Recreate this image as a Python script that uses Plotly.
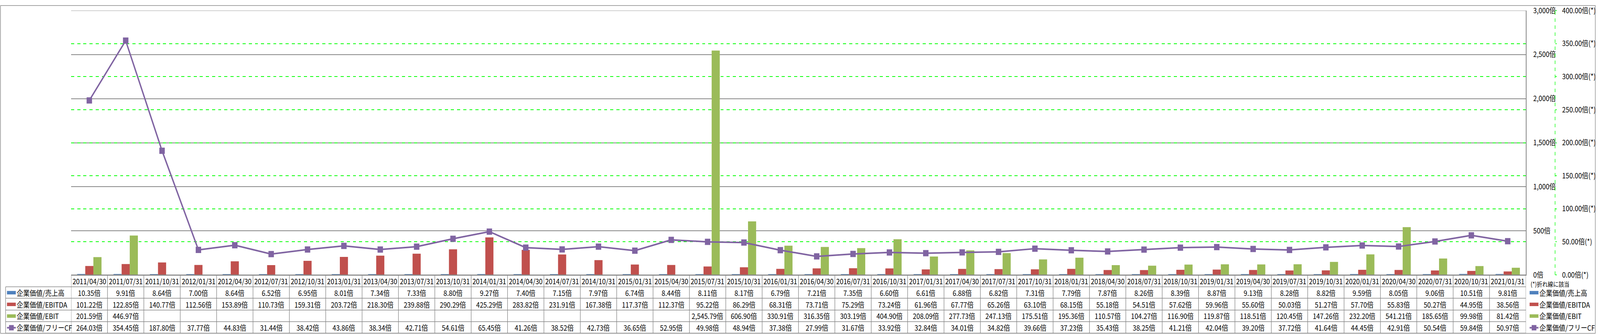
import plotly.graph_objects as go

dates = ["2011/04/30", "2011/07/31", "2011/10/31", "2012/01/31", "2012/04/30", "2012/07/31",
         "2012/10/31", "2013/01/31", "2013/04/30", "2013/07/31", "2013/10/31", "2014/01/31",
         "2014/04/30", "2014/07/31", "2014/10/31", "2015/01/31", "2015/04/30", "2015/07/31",
         "2015/10/31", "2016/01/31", "2016/04/30", "2016/07/31", "2016/10/31", "2017/01/31",
         "2017/04/30", "2017/07/31", "2017/10/31", "2018/01/31", "2018/04/30", "2018/07/31",
         "2018/10/31", "2019/01/31", "2019/04/30", "2019/07/31", "2019/10/31", "2020/01/31",
         "2020/04/30", "2020/07/31", "2020/10/31", "2021/01/31"]

ev_sales = [10.35, 9.91, 8.64, 7.00, 8.64, 6.52, 6.95, 8.01, 7.34, 7.33, 8.80, 9.27,
            7.40, 7.15, 7.97, 6.74, 8.44, 8.11, 8.17, 6.79, 7.21, 7.35, 6.60, 6.61,
            6.88, 6.82, 7.31, 7.79, 7.87, 8.26, 8.39, 8.87, 9.13, 8.28, 8.82, 9.59,
            8.05, 9.06, 10.51, 9.81]

ev_ebitda = [101.22, 122.85, 140.77, 112.56, 153.89, 110.73, 159.31, 203.72, 218.30, 239.88,
             290.29, 425.29, 283.82, 231.91, 167.38, 117.37, 112.37, 95.22, 86.29, 68.31,
             73.71, 75.29, 73.24, 61.96, 67.77, 65.26, 63.10, 68.15, 55.18, 54.51,
             57.62, 59.96, 55.60, 50.03, 51.27, 57.70, 55.83, 50.27, 44.95, 38.56]

ev_ebit = [201.59, 446.97, None, None, None, None, None, None, None, None,
           None, None, None, None, None, None, None, 2545.79, 606.90, 330.91,
           316.35, 303.19, 404.90, 208.09, 277.73, 247.13, 175.51, 195.36, 110.57, 104.27,
           116.90, 119.87, 118.51, 120.45, 147.26, 232.20, 541.21, 185.65, 99.98, 81.42]

ev_fcf = [264.03, 354.45, 187.80, 37.77, 44.83, 31.44, 38.42, 43.86, 38.34, 42.71,
          54.61, 65.45, 41.26, 38.52, 42.73, 36.65, 52.95, 49.98, 48.94, 37.38,
          27.99, 31.67, 33.92, 32.84, 34.01, 34.82, 39.66, 37.23, 35.43, 38.25,
          41.21, 42.04, 39.20, 37.72, 41.64, 44.45, 42.91, 50.54, 59.84, 50.97]

series_names = ["企業価値/売上高", "企業価値/EBITDA", "企業価値/EBIT", "企業価値/フリーCF"]
colors = ["#4F81BD", "#C0504D", "#9BBB59", "#8064A2"]

y1_ticks = [0, 500, 1000, 1500, 2000, 2500, 3000]
y2_ticks = [0, 50, 100, 150, 200, 250, 300, 350, 400]

# ---- layout geometry (pixels) ----
W, H = 4701, 858
ML, MR, MT, MB = 209, 111, 14, 154
PW = W - ML - MR
PH = H - MT - MB
PLOT_RIGHT = 4495
AX2_X = 4581
FONT = "Noto Sans CJK JP"
GRID = "#878787"


def px_x(X):
    return (X - ML) / PW


def px_y(Y):
    return (H - MB - Y) / PH


x_dom_end = px_x(PLOT_RIGHT)

fig = go.Figure()
for name, vals, col in zip(series_names[:3], [ev_sales, ev_ebitda, ev_ebit], colors[:3]):
    fig.add_trace(go.Bar(x=dates, y=vals, name=name, marker=dict(color=col, line=dict(width=0)),
                         yaxis="y"))
fig.add_trace(go.Scatter(x=dates, y=ev_fcf, name=series_names[3], yaxis="y2", mode="lines+markers",
                         line=dict(color=colors[3], width=4),
                         marker=dict(symbol="square", size=16, color=colors[3])))

shapes = []
annotations = []

# top gridline (plotly clips grid lines at the plot edge)
shapes.append(dict(type="line", xref="paper", yref="y", x0=0, x1=x_dom_end,
                   y0=y1_ticks[-1], y1=y1_ticks[-1], line=dict(color=GRID, width=1.5), layer="below"))

# table rows (pixel centres)
row_lines = [704, 735, 765, 796, 826, 856]
row_centers = [(row_lines[i] + row_lines[i + 1]) / 2 for i in range(5)]
LINE = dict(color=GRID, width=1.5)

# horizontal table lines
shapes.append(dict(type="line", xref="paper", yref="paper", x0=0, x1=x_dom_end,
                   y0=px_y(704), y1=px_y(704), line=LINE))
for Y in row_lines[1:]:
    shapes.append(dict(type="line", xref="paper", yref="paper", x0=px_x(16), x1=x_dom_end,
                       y0=px_y(Y), y1=px_y(Y), line=LINE))
# vertical table lines at category boundaries
for i in range(len(dates) + 1):
    shapes.append(dict(type="line", xref="x", yref="paper", x0=i - 0.5, x1=i - 0.5,
                       y0=px_y(704), y1=px_y(856), line=LINE))
shapes.append(dict(type="line", xref="paper", yref="paper", x0=px_x(16), x1=px_x(16),
                   y0=px_y(735), y1=px_y(856), line=LINE))
# outer frame
shapes.append(dict(type="rect", xref="paper", yref="paper", x0=px_x(1), x1=px_x(W - 1.5),
                   y0=px_y(H - 1.5), y1=px_y(1), line=dict(color=GRID, width=1.5)))
# dashed secondary axis line
shapes.append(dict(type="line", xref="paper", yref="paper", x0=px_x(AX2_X), x1=px_x(AX2_X),
                   y0=0, y1=1, line=dict(color="#00FF00", width=1.5, dash="dash")))

# header date labels
for d in dates:
    annotations.append(dict(x=d, xref="x", y=px_y(row_centers[0]), yref="paper", text=d,
                            showarrow=False, xanchor="center", yanchor="middle",
                            font=dict(family=FONT, size=19, color="#000")))

# table values
for r, vals in enumerate([ev_sales, ev_ebitda, ev_ebit, ev_fcf]):
    yc = px_y(row_centers[r + 1])
    for d, v in zip(dates, vals):
        if v is None:
            continue
        annotations.append(dict(x=d, xref="x", y=yc, yref="paper", text=f"{v:,.2f}倍",
                                showarrow=False, xanchor="center", yanchor="middle",
                                font=dict(family=FONT, size=19, color="#000")))


def legend_item(x_sw, x_txt, yc_px, idx):
    col = colors[idx]
    if idx < 3:
        shapes.append(dict(type="rect", xref="paper", yref="paper", x0=px_x(x_sw), x1=px_x(x_sw + 26),
                           y0=px_y(yc_px + 5), y1=px_y(yc_px - 4), fillcolor=col, line=dict(width=0)))
    else:
        shapes.append(dict(type="line", xref="paper", yref="paper", x0=px_x(x_sw), x1=px_x(x_sw + 26),
                           y0=px_y(yc_px + 1), y1=px_y(yc_px + 1), line=dict(color=col, width=4)))
        shapes.append(dict(type="rect", xref="paper", yref="paper", x0=px_x(x_sw + 6), x1=px_x(x_sw + 20),
                           y0=px_y(yc_px + 8), y1=px_y(yc_px - 6), fillcolor=col, line=dict(width=0)))
    annotations.append(dict(x=px_x(x_txt), xref="paper", y=px_y(yc_px), yref="paper",
                            text=series_names[idx], showarrow=False, xanchor="left", yanchor="middle",
                            font=dict(family=FONT, size=19, color="#000")))


for i in range(4):
    legend_item(20, 47, row_centers[i + 1], i)
    legend_item(4506, 4533, row_centers[i + 1], i)

annotations.append(dict(x=px_x(4507), xref="paper", y=px_y(727), yref="paper", text="(*)折れ線に該当",
                        showarrow=False, xanchor="left", yanchor="middle",
                        font=dict(family=FONT, size=16, color="#000")))

fig.update_layout(
    width=W, height=H,
    margin=dict(l=ML, r=MR, t=MT, b=MB, pad=0),
    paper_bgcolor="white", plot_bgcolor="white",
    barmode="group", bargap=0.33, bargroupgap=0,
    showlegend=False,
    font=dict(family=FONT, size=19, color="#000"),
    xaxis=dict(type="category", domain=[0, x_dom_end], range=[-0.5, len(dates) - 0.5],
               showticklabels=False, showgrid=False, zeroline=False,
               showline=True, linecolor=GRID, linewidth=1.5),
    yaxis=dict(range=[0, 3000], tickmode="array", tickvals=y1_ticks,
               ticktext=[f"{v:,}倍" for v in y1_ticks], side="right",
               anchor="x", showgrid=True, gridcolor=GRID, gridwidth=1.5, zeroline=False,
               showline=True, linecolor=GRID, linewidth=1.5, ticks="",
               ticklabeloverflow="allow",
               ticklabelstandoff=16, tickfont=dict(family=FONT, size=19, color="#000")),
    yaxis2=dict(range=[0, 400], tickmode="array", tickvals=y2_ticks,
                ticktext=[f"{v:.2f}倍(*)" for v in y2_ticks], side="right",
                overlaying="y", anchor="free", position=px_x(AX2_X),
                showgrid=True, gridcolor="#00FF00", gridwidth=1.5, griddash="dash", zeroline=False,
                showline=False, ticks="outside", ticklen=4, tickcolor="#00FF00", tickwidth=1.5,
                ticklabeloverflow="allow",
                ticklabelstandoff=12, tickfont=dict(family=FONT, size=19, color="#000")),
    shapes=shapes,
    annotations=annotations,
)

# Fit the fixed-size figure into the browser viewport (no page margins / scrollbars).
fit_js = """
(function(){
  var gd = document.getElementById('{plot_id}');
  document.documentElement.style.margin = '0';
  document.documentElement.style.overflow = 'hidden';
  document.body.style.margin = '0';
  document.body.style.overflow = 'hidden';
  var sx = window.innerWidth / %d;
  var sy = window.innerHeight / %d;
  if (sx < 1 || sy < 1) {
    gd.style.transformOrigin = '0 0';
    gd.style.transform = 'scale(' + Math.min(sx, 1) + ',' + Math.min(sy, 1) + ')';
  }
})();
""" % (W, H)

fig.write_html("out.html", post_script=fit_js, config={"displayModeBar": False})
